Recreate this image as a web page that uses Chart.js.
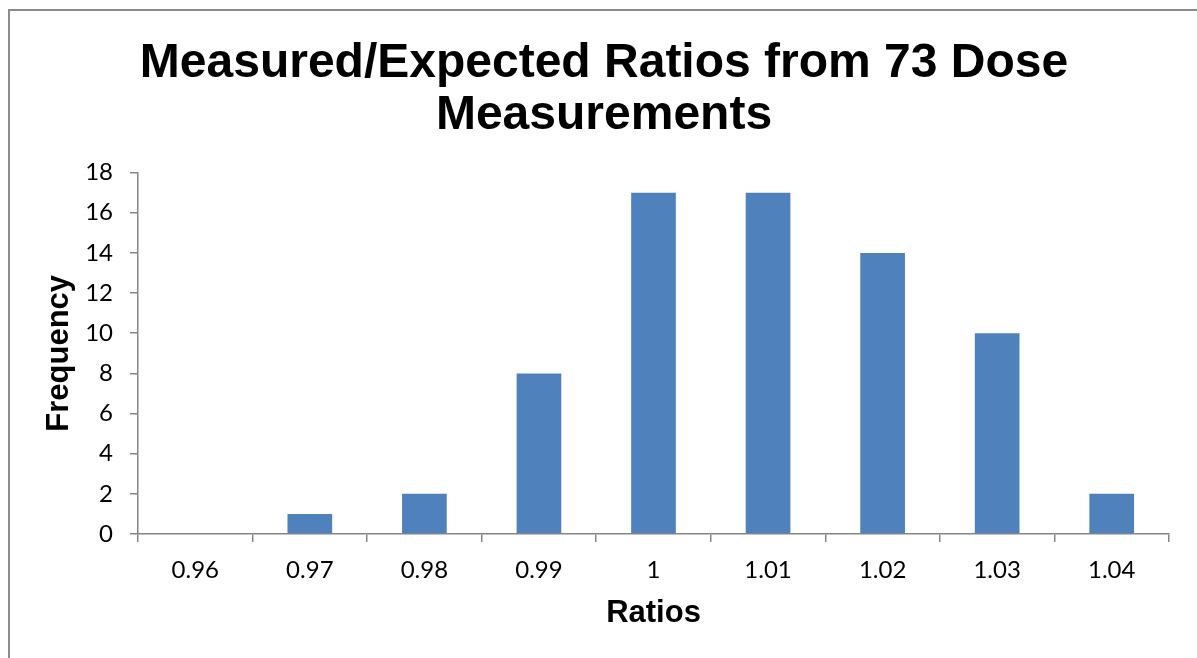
<!DOCTYPE html>
<html>
<head>
<meta charset="utf-8">
<script src="https://cdn.jsdelivr.net/npm/chart.js@4.4.1/dist/chart.umd.min.js"></script>
<style>
    html, body { margin: 0; padding: 0; background: #fff; overflow: hidden; }
    #wrap { position: relative; width: 1197px; height: 658px; }
    #frame { position: absolute; left: 8px; top: 9px; width: 1200px; height: 700px; border: 2px solid #8c8c8c; box-sizing: border-box; }
    canvas { position: absolute; left: 0; top: 0; }
</style>
</head>
<body>
<div id="wrap">
    <div id="frame"></div>
    <canvas id="chart" width="1197" height="658"></canvas>
</div>
<script>
// 히스토그램 데이터
const ratioLabels = ['0.96', '0.97', '0.98', '0.99', '1', '1.01', '1.02', '1.03', '1.04'];
const frequencies = [0, 1, 2, 8, 17, 17, 14, 10, 2];
const titleLines = ['Measured/Expected Ratios from 73 Dose', 'Measurements'];

const axisColor = '#868686';
const tickFont = { family: 'Lato', size: 24 };
const labelFont = { family: 'Liberation Sans', size: 31, weight: 'bold' };

new Chart(document.getElementById('chart').getContext('2d'), {
    type: 'bar',
    data: {
        labels: ratioLabels,
        datasets: [{
            label: 'Frequency',
            data: frequencies,
            backgroundColor: '#4f81bd',
            borderWidth: 0,
            categoryPercentage: 1,
            barPercentage: 0.39
        }]
    },
    options: {
        responsive: false,
        animation: false,
        layout: { padding: { left: 39, right: 28, top: 0, bottom: 20 } },
        plugins: {
            legend: { display: false },
            tooltip: { enabled: false },
            title: {
                display: true,
                text: titleLines,
                color: '#000',
                font: { family: 'Liberation Sans', size: 48, weight: 'bold', lineHeight: 1.1 },
                padding: { top: 37, bottom: 30 }
            }
        },
        scales: {
            x: {
                grid: { drawOnChartArea: false, drawTicks: true, tickLength: 8, color: axisColor, lineWidth: 1.5 },
                border: { color: axisColor, width: 1.5 },
                ticks: { color: '#000', font: tickFont, padding: 14, maxRotation: 0 },
                title: { display: true, text: 'Ratios', color: '#000', font: labelFont, padding: { top: 0, bottom: 6 } },
                afterFit: function(axis) {
                    axis.height = 104; // 축 높이 고정
                }
            },
            y: {
                min: 0,
                max: 18,
                grid: { drawOnChartArea: false, drawTicks: true, tickLength: 8, color: axisColor, lineWidth: 1.5 },
                border: { color: axisColor, width: 1.5 },
                ticks: { stepSize: 2, color: '#000', font: tickFont, padding: 17 },
                title: { display: true, text: 'Frequency', color: '#000', font: labelFont, padding: { top: 2, bottom: 0 } },
                afterFit: function(axis) {
                    axis.width = 99; // 축 너비 고정
                }
            }
        }
    }
});
</script>
</body>
</html>
